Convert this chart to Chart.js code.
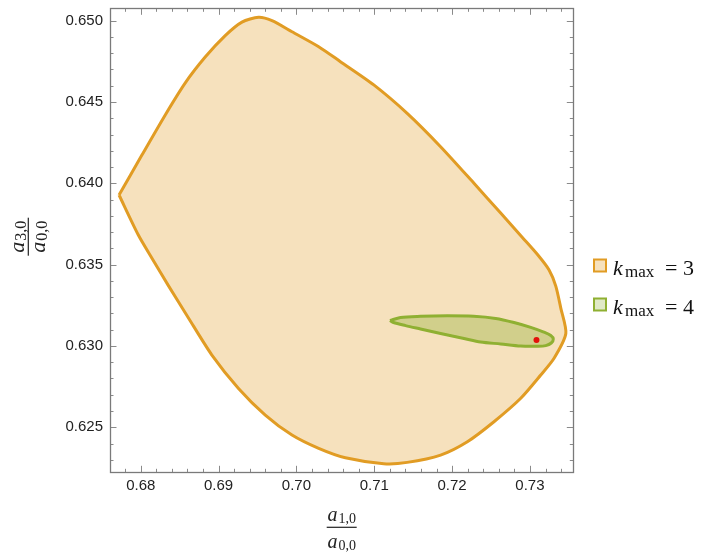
<!DOCTYPE html>
<html>
<head>
<meta charset="utf-8">
<script src="https://cdn.jsdelivr.net/npm/chart.js@4.4.1/dist/chart.umd.min.js"></script>
<style>
  html, body { margin:0; padding:0; background:#fff; }
  #wrap { width:706px; height:554px; }
</style>
</head>
<body>
<div id="wrap"><canvas id="regionChart" width="706" height="554"></canvas></div>
<script>
// ===== Data =====
const xTicks = [0.68, 0.69, 0.70, 0.71, 0.72, 0.73];
const yTicks = [0.625, 0.630, 0.635, 0.640, 0.645, 0.650];

// allowed region for k_max = 3 (closed outline)
const k3X = [0.67721,0.68013,0.68313,0.68570,0.68828,0.69085,0.69300,0.69514,0.69686,0.69943,
             0.70286,0.70565,0.70994,0.71423,0.71852,0.72281,0.72624,0.72903,0.73097,0.73246,
             0.73332,0.73397,0.73461,0.73310,0.73139,0.72882,0.72538,0.72196,0.71852,0.71423,
             0.71122,0.70629,0.70286,0.69943,0.69600,0.69256,0.68914,0.68613,0.68355,0.68142,
             0.67969,0.67721];
const k3Y = [0.63928,0.64172,0.64419,0.64616,0.64776,0.64908,0.64991,0.65021,0.65000,0.64932,
             0.64840,0.64748,0.64605,0.64430,0.64225,0.64000,0.63817,0.63667,0.63562,0.63467,
             0.63368,0.63231,0.63076,0.62924,0.62821,0.62678,0.62534,0.62411,0.62329,0.62284,
             0.62276,0.62312,0.62370,0.62452,0.62575,0.62739,0.62944,0.63172,0.63371,0.63541,
             0.63682,0.63928];

// allowed region for k_max = 4 (closed outline)
const k4X = [0.71202,0.71337,0.71594,0.71938,0.72277,0.72560,0.72795,0.73010,0.73178,0.73268,
             0.73300,0.73274,0.73203,0.73100,0.72881,0.72624,0.72366,0.72152,0.71852,0.71594,
             0.71402,0.71247,0.71202];
const k4Y = [0.63156,0.63175,0.63182,0.63185,0.63182,0.63169,0.63144,0.63114,0.63085,0.63064,
             0.63042,0.63018,0.63002,0.62998,0.62999,0.63012,0.63024,0.63046,0.63076,0.63104,
             0.63125,0.63144,0.63156];

// marked point
const dotX = [0.73084];
const dotY = [0.63036];

const legendLabels = ['3', '4'];

// ===== Colours =====
const ORANGE = '#e19c24';
const GREEN = '#8fb032';
const ORANGE_FILL = 'rgba(225,156,36,0.30)';
const GREEN_FILL = 'rgba(143,176,50,0.36)';

function pts(xs, ys){ return xs.map((x,i)=>({x:x, y:ys[i]})); }

// ===== Frame with inward ticks on all four sides =====
const framePlugin = {
    id:'frame',
    afterDraw(chart){
        const ctx = chart.ctx, a = chart.chartArea;
        const xs = chart.scales.x, ys = chart.scales.y;
        ctx.save();
        ctx.strokeStyle = '#8a8a8a';
        ctx.lineWidth = 1;
        ctx.beginPath();
        for(let i=338;i<=367;i++){
            const px = Math.round(xs.getPixelForValue(i/500))+0.5;
            const len = (i%5===0) ? 6.5 : 3.5;
            ctx.moveTo(px,a.bottom); ctx.lineTo(px,a.bottom-len);
            ctx.moveTo(px,a.top); ctx.lineTo(px,a.top+len);
        }
        for(let i=623;i<=650;i++){
            const py = Math.round(ys.getPixelForValue(i/1000))+0.5;
            const len = (i%5===0) ? 6.5 : 3.5;
            ctx.moveTo(a.left,py); ctx.lineTo(a.left+len,py);
            ctx.moveTo(a.right,py); ctx.lineTo(a.right-len,py);
        }
        ctx.stroke();
        ctx.strokeStyle = '#7a7a7a';
        ctx.lineWidth = 1.3;
        ctx.strokeRect(Math.round(a.left)+0.5, Math.round(a.top)+0.5, Math.round(a.right-a.left), Math.round(a.bottom-a.top));
        ctx.restore();
    }
};

// ===== Fraction axis labels and legend (serif, with subscripts) =====
function subWidth(ctx, main, sub, fm, fs){
    ctx.font = 'italic '+fm+'px "Liberation Serif"';
    const w1 = ctx.measureText(main).width + 1;
    ctx.font = fs+'px "Liberation Serif"';
    return w1 + ctx.measureText(sub).width;
}
function drawSub(ctx, x, y, main, sub, fm, fs, drop){
    ctx.font = 'italic '+fm+'px "Liberation Serif"';
    ctx.fillText(main, x, y);
    const w1 = ctx.measureText(main).width + 1;
    ctx.font = fs+'px "Liberation Serif"';
    ctx.fillText(sub, x+w1, y+drop);
    return w1 + ctx.measureText(sub).width;
}
function drawFraction(ctx, cx, cy, numSub, denSub, fm, fs, upOff, downOff, lineLen){
    ctx.textAlign = 'left';
    ctx.textBaseline = 'alphabetic';
    const wn = subWidth(ctx,'a',numSub,fm,fs);
    const wd = subWidth(ctx,'a',denSub,fm,fs);
    drawSub(ctx, cx-wn/2, cy-upOff, 'a', numSub, fm, fs, 2);
    drawSub(ctx, cx-wd/2, cy+downOff, 'a', denSub, fm, fs, 2);
    ctx.fillRect(cx-lineLen/2, cy-0.6, lineLen, 1.2);
}

const labelPlugin = {
    id:'labels',
    afterDraw(chart){
        const ctx = chart.ctx;
        ctx.save();
        ctx.fillStyle = '#222';
        // x axis title
        drawFraction(ctx, 341.7, 527.3, '1,0', '0,0', 20, 14, 6.5, 20.5, 30);
        // y axis title (rotated)
        ctx.save();
        ctx.translate(28.3, 236.7);
        ctx.rotate(-Math.PI/2);
        drawFraction(ctx, 0, 0, '3,0', '0,0', 22, 16, 4, 17, 38);
        ctx.restore();

        // legend
        const colors = [[ORANGE, ORANGE_FILL],[GREEN, 'rgba(143,176,50,0.28)']];
        const rows = [275, 314];
        rows.forEach((base,i)=>{
            ctx.fillStyle = '#fff';
            ctx.fillRect(594, base-15.5, 12, 12);
            ctx.fillStyle = colors[i][1];
            ctx.fillRect(594, base-15.5, 12, 12);
            ctx.strokeStyle = colors[i][0];
            ctx.lineWidth = 2;
            ctx.strokeRect(594, base-15.5, 12, 12);
            ctx.fillStyle = '#111';
            ctx.textAlign = 'left';
            ctx.textBaseline = 'alphabetic';
            ctx.font = 'italic 22px "Liberation Serif"';
            ctx.fillText('k', 613, base);
            ctx.font = '17px "Liberation Serif"';
            ctx.fillText('max', 625, base+2);
            ctx.font = '22px "Liberation Serif"';
            ctx.fillText('= ' + legendLabels[i], 665, base);
        });
        ctx.restore();
    }
};

// ===== Chart =====
function initRegionChart(){
    const ctx = document.getElementById('regionChart').getContext('2d');
    new Chart(ctx,{
        type:'scatter',
        data:{
            datasets:[
                { label:'kmax = 3', data: pts(k3X,k3Y), showLine:true, fill:'shape',
                  borderColor:ORANGE, backgroundColor:ORANGE_FILL, borderWidth:3,
                  pointRadius:0, tension:0.25, order:3 },
                { label:'kmax = 4', data: pts(k4X,k4Y), showLine:true, fill:'shape',
                  borderColor:GREEN, backgroundColor:GREEN_FILL, borderWidth:3,
                  pointRadius:0, tension:0.3, order:2 },
                { label:'point', data: pts(dotX,dotY), showLine:false,
                  pointRadius:3, pointBackgroundColor:'#e3120b', pointBorderWidth:0, order:1 }
            ]
        },
        options:{
            responsive:false,
            animation:false,
            devicePixelRatio:1,
            layout:{ padding:{ left:0, right:132.7, top:8.3, bottom:0 } },
            plugins:{ legend:{ display:false }, tooltip:{ enabled:false } },
            scales:{
                x:{
                    type:'linear', min:0.67605, max:0.73557,
                    grid:{ display:false, drawTicks:false }, border:{ display:false },
                    afterBuildTicks: s => { s.ticks = xTicks.map(v=>({value:v})); },
                    afterFit: s => { s.height = 554-472.3; s.paddingLeft = 0; s.paddingRight = 0; },
                    ticks:{ padding:5, color:'#222', maxRotation:0,
                            font:{ family:'"Liberation Sans"', size:15 },
                            callback: v => v.toFixed(2) }
                },
                y:{
                    type:'linear', min:0.62223, max:0.65076,
                    grid:{ display:false, drawTicks:false }, border:{ display:false },
                    afterBuildTicks: s => { s.ticks = yTicks.map(v=>({value:v})); },
                    afterFit: s => { s.width = 110; s.paddingTop = 0; s.paddingBottom = 0; },
                    ticks:{ padding:7, color:'#222',
                            font:{ family:'"Liberation Sans"', size:15 },
                            callback: v => v.toFixed(3) }
                }
            }
        },
        plugins:[framePlugin, labelPlugin]
    });
}

initRegionChart();
</script>
</body>
</html>
